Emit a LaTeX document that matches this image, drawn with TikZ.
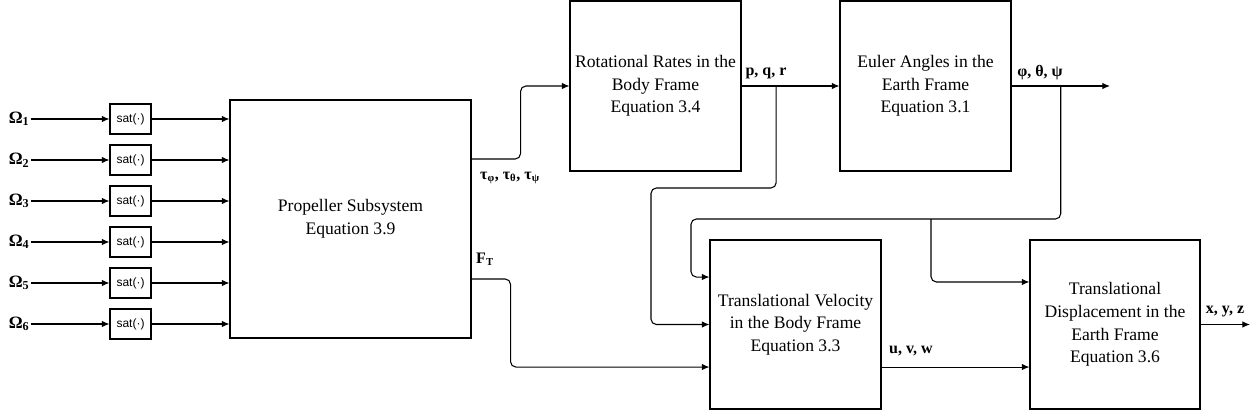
\documentclass[tikz,border=0pt]{standalone}
\usepackage{fontspec}
\setmainfont{Liberation Serif}
\newfontfamily\satfont{Liberation Sans}
\usetikzlibrary{arrows.meta,positioning,calc}
\tikzset{
  block/.style={draw,line width=0.8pt,align=center,inner sep=2pt,font=\fontsize{13.2}{17}\selectfont},
  satbox/.style={draw,line width=0.8pt,minimum width=30.75pt,minimum height=22.5pt,inner sep=0pt,font=\satfont\fontsize{9}{10}\selectfont},
  sig/.style={inner sep=1pt,font=\bfseries\fontsize{12}{14}\selectfont},
  arr/.style={-{Latex[length=2mm,width=1.7mm]},line width=0.8pt,rounded corners=4pt}
}
\begin{document}
\begin{tikzpicture}[x=0.75pt,y=-0.75pt]
  \useasboundingbox (0,0) rectangle (1259,410);
  % blocks
  \node[block,minimum width=180.75pt,minimum height=178.5pt] (prop) at (350.5,219) {Propeller Subsystem\\Equation 3.9};
  \node[block,minimum width=128.25pt,minimum height=127.5pt] (rot) at (655.5,86) {Rotational Rates in the\\Body Frame\\Equation 3.4};
  \node[block,minimum width=128.25pt,minimum height=127.5pt] (euler) at (925.5,86) {Euler Angles in the\\Earth Frame\\Equation 3.1};
  \node[block,minimum width=128.25pt,minimum height=126.75pt] (tvel) at (795.5,324.5) {Translational Velocity\\in the Body Frame\\Equation 3.3};
  \node[block,minimum width=127.5pt,minimum height=126.75pt] (tdisp) at (1115,324.5) {Translational\\Displacement in the\\Earth Frame\\Equation 3.6};
  % rotor speed inputs
  \foreach \i in {1,...,6} {
    \node[satbox] (sat\i) at (130.5,{78+41*\i}) {sat(·)};
    \node[sig,anchor=east,font=\bfseries\fontsize{13}{15}\selectfont] (om\i) at (31,{78+41*\i}) {Ω\textsubscript{\i}};
    \draw[arr] (om\i) -- (sat\i);
    \draw[arr] (sat\i) -- (prop.west |- sat\i);
  }
  % torques and thrust
  \draw[arr] ([yshift=45pt]prop.east) -- ++(49,0) |- (rot.west);
  \node[sig] (taulbl) at (510,178) {τ\textsubscript{φ}, τ\textsubscript{θ}, τ\textsubscript{ψ}};
  \draw[arr] ([yshift=-45pt]prop.east) -- ++(39,0) |- ([yshift=-31.9pt]tvel.west);
  \node[sig] (ftlbl) at (485,259) {F\textsubscript{T}};
  % body rates
  \draw[arr] (rot.east) -- (euler.west);
  \node[sig] (pqrlbl) at (766,73) {p, q, r};
  \coordinate (pqrbr) at ($(rot.east)!0.354!(euler.west)$);
  \draw[arr] (pqrbr) |- (651,188) |- (tvel.west);
  % euler angles
  \coordinate (angend) at (1110,86);
  \draw[arr] (euler.east) -- (angend);
  \node[sig] (anglbl) at (1040,73) {φ, θ, ψ};
  \coordinate (angbr) at ($(euler.east)!0.5!(angend)$);
  \draw[arr] (angbr) |- (691,219) |- ([yshift=35.6pt]tvel.west);
  \coordinate (jn) at (931,219);
  \draw[arr] (jn) |- ([yshift=31.9pt]tdisp.west);
  % velocities and position
  \draw[arr] ([yshift=-31.9pt]tvel.east) -- ([yshift=-31.9pt]tdisp.west);
  \node[sig] (uvwlbl) at (911,351) {u, v, w};
  \coordinate (posend) at (1250,324.5);
  \draw[arr] (tdisp.east) -- (posend);
  \node[sig] (xyzlbl) at (1225,312) {x, y, z};
\end{tikzpicture}
\end{document}
